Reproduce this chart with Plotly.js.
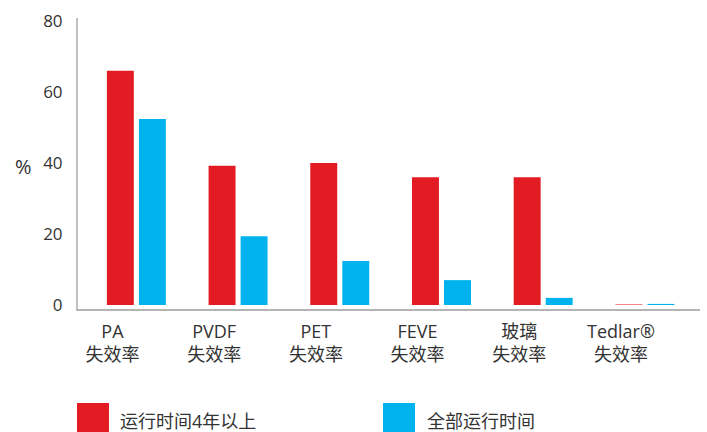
<!DOCTYPE html>
<html>
<head>
<meta charset="utf-8">
<script src="https://cdn.plot.ly/plotly-3.0.1.min.js"></script>
<style>html,body{margin:0;padding:0;background:#fff;}#chart{width:707px;height:432px;}</style>
</head>
<body>
<div id="chart"></div>
<script>
const categories = ["PA<br>失效率", "PVDF<br>失效率", "PET<br>失效率", "FEVE<br>失效率", "玻璃<br>失效率", "Tedlar®<br>失效率"];
const seriesNames = ["运行时间4年以上", "全部运行时间"];
const over4Years = [66, 39.2, 40, 36, 36, 0.15];
const allTime = [52.4, 19.4, 12.4, 7, 2, 0.3];
const yTicks = [0, 20, 40, 60, 80];
const colors = ["#E31B23", "#00B3EF"];

const FONT = "Open Sans, Noto Sans CJK SC, sans-serif";
const TXT = "#333333";

const traces = [
  {type: "bar", x: categories, y: over4Years, name: seriesNames[0],
   marker: {color: colors[0]}, width: 0.265, offset: -0.055, hoverinfo: "y"},
  {type: "bar", x: categories, y: allTime, name: seriesNames[1],
   marker: {color: colors[1]}, width: 0.265, offset: 0.26, hoverinfo: "y"}
];

// pixel -> paper helpers for legend placement
const L = 78, R = 700, T = 18, B = 309;
const px = v => (v - L) / (R - L);
const py = v => (B - v) / (B - T);

const layout = {
  width: 707, height: 432,
  margin: {l: L, r: 707 - R, t: T, b: 432 - B, pad: 0},
  paper_bgcolor: "#fff", plot_bgcolor: "#fff",
  font: {family: FONT, color: TXT, size: 17},
  showlegend: false,
  barmode: "overlay",
  xaxis: {
    type: "category", range: [-0.339, 5.777],
    showline: true, linecolor: "#b4b4b4", linewidth: 2,
    showgrid: false, zeroline: false, ticks: "",
    tickfont: {size: 18, color: TXT, family: FONT},
    ticklabelstandoff: 5
  },
  yaxis: {
    range: [-1.13, 80.85], tickvals: yTicks,
    showline: true, linecolor: "#c0c0c0", linewidth: 2,
    showgrid: false, zeroline: false, ticks: "",
    tickfont: {size: 17, color: TXT, family: FONT},
    ticklabelstandoff: 10
  },
  annotations: [
    {text: "%", xref: "paper", yref: "paper", x: px(23), y: py(166), xanchor: "center", yanchor: "middle",
     showarrow: false, font: {size: 20, color: TXT, family: FONT}},
    {text: seriesNames[0], xref: "paper", yref: "paper", x: px(118), y: py(421), xanchor: "left", yanchor: "middle",
     showarrow: false, font: {size: 18, color: TXT, family: FONT}},
    {text: seriesNames[1], xref: "paper", yref: "paper", x: px(425), y: py(421), xanchor: "left", yanchor: "middle",
     showarrow: false, font: {size: 18, color: TXT, family: FONT}}
  ],
  shapes: [
    {type: "rect", xref: "paper", yref: "paper", x0: px(77), x1: px(109), y0: py(435), y1: py(403),
     fillcolor: colors[0], line: {width: 0}},
    {type: "rect", xref: "paper", yref: "paper", x0: px(383), x1: px(415), y0: py(435), y1: py(403),
     fillcolor: colors[1], line: {width: 0}}
  ]
};

Plotly.newPlot("chart", traces, layout, {displayModeBar: false, staticPlot: true});
</script>
</body>
</html>
